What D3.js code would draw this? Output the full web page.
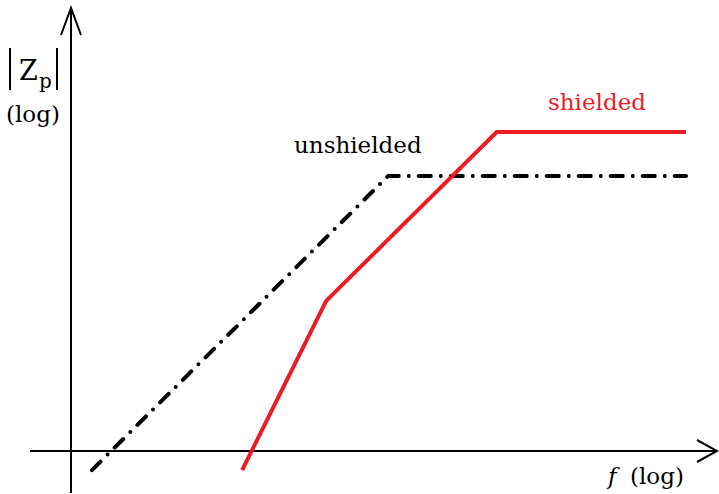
<!DOCTYPE html>
<html>
<head>
<meta charset="utf-8">
<script src="https://cdn.jsdelivr.net/npm/d3@7"></script>
<style>
  body { margin: 0; background: #fff; }
  text { font-family: "DejaVu Serif", serif; }
</style>
</head>
<body>
<script>
let w = 719,
  h = 494;

// log-log sketch, arbitrary units (origin where the axes cross)
const unshieldedF = [3.25, 49.1, 95.2];
const unshieldedZ = [-4.3, 62.1, 62.1];
const shieldedF = [26.5, 39.5, 65.9, 95.2];
const shieldedZ = [-4.3, 33.9, 72.0, 72.0];

const xAxisExtent = [-6.35, 100];
const yAxisExtent = [-9.5, 100];

let xScale = d3.scaleLinear().domain([0, 100]).range([71, 717]);
let yScale = d3.scaleLinear().domain([0, 100]).range([451, 8]);

const svg = d3.select("body")
  .append("svg")
  .attr("width", w)
  .attr("height", h);

// axes
svg.append("line")
  .attr("x1", xScale(xAxisExtent[0])).attr("x2", xScale(xAxisExtent[1]))
  .attr("y1", yScale(0)).attr("y2", yScale(0))
  .attr("stroke", "#000").attr("stroke-width", 2);

svg.append("line")
  .attr("x1", xScale(0)).attr("x2", xScale(0))
  .attr("y1", yScale(yAxisExtent[0])).attr("y2", yScale(yAxisExtent[1]))
  .attr("stroke", "#000").attr("stroke-width", 2);

// open arrow heads
let xt = xScale(xAxisExtent[1]), yt = yScale(0);
svg.append("path")
  .attr("d", `M${xt - 20},${yt - 11}L${xt},${yt}L${xt - 20},${yt + 11}`)
  .attr("fill", "none").attr("stroke", "#000").attr("stroke-width", 2);

let xu = xScale(0), yu = yScale(yAxisExtent[1]);
svg.append("path")
  .attr("d", `M${xu - 10},${yu + 27}L${xu},${yu}L${xu + 10},${yu + 27}`)
  .attr("fill", "none").attr("stroke", "#000").attr("stroke-width", 2);

const line = d3.line()
  .x(function(d) { return xScale(d[0]); })
  .y(function(d) { return yScale(d[1]); });

svg.append("path")
  .datum(d3.zip(unshieldedF, unshieldedZ))
  .attr("d", line)
  .attr("fill", "none")
  .attr("stroke", "#000")
  .attr("stroke-width", 4)
  .attr("stroke-linecap", "round")
  .attr("stroke-dasharray", "12,10,0,10");

svg.append("path")
  .datum(d3.zip(shieldedF, shieldedZ))
  .attr("d", line)
  .attr("fill", "none")
  .attr("stroke", "#ec1c24")
  .attr("stroke-width", 4);

// labels
svg.append("text")
  .attr("x", 294).attr("y", 153)
  .attr("font-size", 23)
  .attr("fill", "#000")
  .text("unshielded");

svg.append("text")
  .attr("x", 548).attr("y", 110)
  .attr("font-size", 23)
  .attr("fill", "#ec1c24")
  .text("shielded");

// |Z_p|
svg.append("line").attr("x1", 10).attr("x2", 10).attr("y1", 48).attr("y2", 90)
  .attr("stroke", "#000").attr("stroke-width", 2);
svg.append("line").attr("x1", 57).attr("x2", 57).attr("y1", 48).attr("y2", 90)
  .attr("stroke", "#000").attr("stroke-width", 2);
svg.append("text")
  .attr("x", 19).attr("y", 80)
  .attr("font-size", 27)
  .text("Z");
svg.append("text")
  .attr("x", 39).attr("y", 88)
  .attr("font-size", 20)
  .text("p");

svg.append("text")
  .attr("x", 6).attr("y", 122)
  .attr("font-size", 23)
  .text("(log)");

svg.append("text")
  .attr("x", 608).attr("y", 484)
  .attr("font-size", 23)
  .attr("font-style", "italic")
  .text("f");
svg.append("text")
  .attr("x", 630).attr("y", 484)
  .attr("font-size", 23)
  .text("(log)");
</script>
</body>
</html>
